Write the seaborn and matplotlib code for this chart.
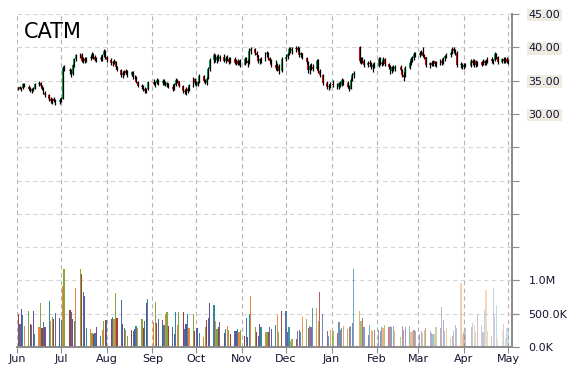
import numpy as np
import pandas as pd
import matplotlib
matplotlib.use("Agg")
import matplotlib.pyplot as plt
import matplotlib.dates as mdates
import seaborn as sns

# data - one row per month
holidays = ["2014-07-04", "2014-09-01", "2014-11-27", "2014-12-25",
            "2015-01-01", "2015-01-19", "2015-02-16", "2015-04-03"]

opens = [
    33.8, 34.0, 33.8, 33.9, 34.5, 34.1, 33.8, 33.5, 33.7, 33.8, 34.5, 34.7, 34.2, 33.8, 33.2, 32.8, 32.3, 31.9, 32.2, 32.0, 31.8,
    32.1, 32.3, 37.0, 36.6, 36.4, 36.0, 37.3, 38.2, 38.8, 38.9, 38.0, 38.3, 37.9, 38.4, 38.6, 39.0, 38.5, 38.1, 38.4, 38.2, 38.8, 39.4,
    38.5, 38.1, 37.6, 37.8, 37.9, 37.0, 36.6, 35.9, 36.1, 36.4, 36.2, 35.8, 36.3, 35.5, 35.6, 34.8, 34.2, 34.0, 33.7, 33.5, 33.8,
    34.8, 34.5, 34.7, 35.1, 34.6, 35.0, 34.5, 34.4, 34.6, 34.1, 33.7, 34.4, 35.1, 34.9, 34.2, 33.4, 33.3, 33.8, 33.5, 34.3, 35.2,
    34.6, 34.4, 34.8, 35.7, 35.0, 34.7, 35.3, 36.8, 38.1, 38.9, 38.1, 38.6, 38.3, 38.5, 38.0, 38.4, 38.2, 37.8, 38.3, 37.7, 38.0, 37.5, 37.9,
    37.4, 38.2, 37.9, 37.6, 39.5, 39.7, 39.2, 38.8, 37.9, 38.2, 38.0, 39.0, 39.2, 38.4, 37.9, 37.3, 36.9, 37.2, 36.4,
    38.3, 38.6, 39.0, 39.7, 39.5, 39.8, 39.9, 39.6, 38.9, 39.1, 38.4, 37.8, 36.6, 37.2, 37.0, 36.8, 38.0, 36.5, 35.8, 34.7, 34.0, 34.2,
    34.5, 34.3, 34.0, 34.6, 34.3, 35.1, 34.7, 34.1, 33.8, 35.1, 35.8, 40.0, 37.9, 38.2, 37.9, 37.4, 37.7, 37.5, 37.0, 37.4,
    37.2, 38.2, 37.7, 37.5, 38.2, 37.5, 37.0, 36.4, 37.0, 36.8, 37.1, 36.6, 35.9, 35.6, 36.9, 37.6, 38.2, 38.4, 39.0,
    38.8, 39.1, 39.3, 38.7, 38.5, 37.3, 37.6, 37.4, 37.9, 37.5, 37.6, 38.0, 37.7, 38.4, 38.7, 38.9, 39.2, 39.8, 39.5, 39.1, 37.3, 37.5,
    37.1, 37.3, 37.2, 38.0, 37.6, 37.9, 37.4, 37.8, 37.4, 37.9, 37.6, 38.0, 38.3, 37.9, 38.1, 39.0, 38.5, 37.8, 38.2, 37.9, 38.3,
    37.8,
]
highs = [
    34.1, 34.2, 34.0, 34.7, 34.6, 34.3, 34.0, 33.9, 34.0, 34.6, 34.9, 34.8, 34.4, 34.0, 33.4, 33.0, 32.5, 32.4, 32.5, 32.3, 32.4,
    32.6, 37.2, 37.3, 36.9, 36.8, 37.5, 38.4, 39.0, 39.2, 39.1, 38.5, 38.6, 38.6, 38.8, 39.3, 39.2, 38.9, 38.6, 38.7, 39.0, 39.7, 39.6,
    38.7, 38.4, 38.0, 38.2, 38.0, 37.2, 36.8, 36.4, 36.6, 36.7, 36.6, 36.5, 36.4, 35.9, 35.7, 35.0, 34.5, 34.3, 34.0, 33.9, 35.0,
    35.2, 34.9, 35.4, 35.3, 35.3, 35.2, 34.9, 34.8, 34.7, 34.5, 34.6, 35.4, 35.3, 35.0, 34.4, 33.8, 34.0, 34.1, 34.5, 35.5, 35.4,
    35.0, 35.0, 36.0, 35.9, 35.3, 35.5, 37.0, 38.4, 39.2, 39.0, 38.9, 39.0, 38.8, 39.0, 38.7, 38.9, 38.6, 38.5, 38.5, 38.2, 38.3, 38.1, 38.2,
    38.5, 38.6, 38.3, 39.9, 40.0, 39.9, 39.4, 38.9, 38.4, 38.5, 39.3, 39.4, 39.3, 38.6, 38.3, 38.1, 37.6, 37.5, 38.5,
    39.0, 39.2, 40.0, 40.1, 40.0, 40.2, 40.2, 40.0, 39.3, 39.2, 38.6, 38.0, 37.5, 37.7, 37.5, 38.3, 38.2, 36.7, 36.0, 34.9, 34.5, 34.8,
    35.1, 34.6, 34.8, 34.9, 35.4, 35.3, 34.9, 34.3, 35.4, 36.1, 36.4, 40.2, 38.5, 38.6, 38.2, 38.0, 38.1, 37.8, 37.6, 37.8,
    38.5, 38.6, 38.0, 38.5, 38.4, 37.7, 37.3, 37.2, 37.4, 37.3, 37.3, 36.8, 36.3, 37.2, 38.0, 38.5, 38.7, 39.3, 39.3,
    39.4, 39.6, 40.0, 39.0, 38.6, 37.8, 38.0, 38.1, 38.0, 37.9, 38.2, 38.3, 38.6, 38.9, 39.2, 39.5, 40.0, 40.1, 39.7, 39.4, 37.8, 37.7,
    37.6, 37.6, 38.3, 38.2, 38.2, 38.1, 38.0, 38.0, 38.2, 38.1, 38.2, 38.6, 38.5, 38.3, 39.3, 39.2, 38.7, 38.4, 38.5, 38.5, 38.6,
    38.3,
]
lows = [
    33.6, 33.7, 33.5, 33.8, 34.0, 33.6, 33.3, 33.2, 33.5, 33.7, 34.2, 34.0, 33.6, 33.0, 32.6, 32.0, 31.6, 31.5, 31.8, 31.4, 31.5,
    31.8, 32.2, 36.4, 36.0, 35.6, 35.9, 37.1, 38.0, 38.4, 37.8, 37.7, 37.6, 37.8, 38.1, 38.4, 38.3, 37.9, 37.8, 37.9, 38.0, 38.6, 38.3,
    37.8, 37.4, 37.2, 37.5, 36.8, 36.4, 35.6, 35.4, 35.8, 36.0, 35.5, 35.7, 35.3, 35.2, 34.6, 34.0, 33.7, 33.5, 33.2, 33.2, 33.6,
    34.3, 34.1, 34.5, 34.4, 34.4, 34.3, 34.2, 34.0, 33.9, 33.4, 33.6, 34.2, 34.6, 34.0, 33.1, 33.0, 32.9, 33.2, 33.4, 34.1, 34.3,
    34.2, 34.2, 34.7, 34.8, 34.5, 34.4, 35.2, 36.5, 37.6, 37.8, 37.6, 38.0, 37.9, 37.8, 37.6, 38.0, 37.5, 37.6, 37.5, 37.4, 37.3, 37.3, 37.0,
    37.3, 37.6, 37.0, 37.5, 39.0, 38.9, 38.5, 37.6, 37.5, 37.7, 37.9, 38.6, 38.1, 37.6, 37.0, 36.6, 36.5, 36.0, 36.3,
    38.0, 38.2, 38.8, 39.2, 39.0, 39.3, 39.4, 38.6, 38.5, 38.2, 37.5, 36.2, 36.0, 36.6, 36.5, 36.7, 36.2, 35.6, 34.4, 33.7, 33.6, 33.9,
    34.0, 33.8, 33.8, 34.0, 34.2, 34.4, 33.9, 33.4, 33.7, 35.0, 35.4, 37.6, 37.5, 37.7, 37.0, 37.0, 37.2, 36.8, 36.3, 36.9,
    37.1, 37.4, 37.2, 37.4, 37.2, 36.8, 36.0, 36.2, 36.5, 36.4, 36.4, 35.5, 35.0, 35.5, 36.8, 37.4, 37.8, 38.1, 38.5,
    38.6, 38.9, 38.5, 38.2, 37.0, 36.9, 37.2, 37.2, 37.2, 37.0, 37.4, 37.3, 37.5, 38.0, 38.4, 38.6, 39.0, 39.2, 38.8, 37.0, 36.9, 36.8,
    36.8, 37.0, 37.1, 37.3, 37.1, 37.0, 37.2, 37.2, 37.3, 37.3, 37.4, 37.6, 37.7, 37.5, 38.0, 38.2, 37.5, 37.6, 37.7, 37.6, 37.6,
    37.5,
]
closes = [
    34.0, 33.8, 33.9, 34.5, 34.1, 33.8, 33.5, 33.7, 33.8, 34.5, 34.7, 34.2, 33.8, 33.2, 32.8, 32.3, 31.9, 32.2, 32.0, 31.8, 32.1,
    32.3, 36.9, 36.6, 36.4, 36.0, 37.3, 38.2, 38.8, 38.9, 38.0, 38.3, 37.9, 38.4, 38.6, 39.0, 38.5, 38.1, 38.4, 38.2, 38.8, 39.4, 38.5,
    38.1, 37.6, 37.8, 37.9, 37.0, 36.6, 35.9, 36.1, 36.4, 36.2, 35.8, 36.3, 35.5, 35.6, 34.8, 34.2, 34.0, 33.7, 33.5, 33.8, 34.8,
    34.5, 34.7, 35.1, 34.6, 35.0, 34.5, 34.4, 34.6, 34.1, 33.7, 34.4, 35.1, 34.9, 34.2, 33.4, 33.3, 33.8, 33.5, 34.3, 35.2, 34.6,
    34.4, 34.8, 35.7, 35.0, 34.7, 35.3, 36.8, 38.1, 38.9, 38.1, 38.6, 38.3, 38.5, 38.0, 38.4, 38.2, 37.8, 38.3, 37.7, 38.0, 37.5, 37.9, 37.4,
    38.2, 37.9, 37.6, 39.5, 39.7, 39.2, 38.8, 37.9, 38.2, 38.0, 39.0, 39.2, 38.4, 37.9, 37.3, 36.9, 37.2, 36.4, 38.3,
    38.6, 39.0, 39.7, 39.5, 39.8, 39.9, 39.6, 38.9, 39.1, 38.4, 37.8, 36.6, 37.2, 37.0, 36.8, 38.0, 36.5, 35.8, 34.7, 34.0, 34.2, 34.5,
    34.3, 34.0, 34.6, 34.3, 35.1, 34.7, 34.1, 33.8, 35.1, 35.8, 36.1, 37.9, 38.2, 37.9, 37.4, 37.7, 37.5, 37.0, 37.4, 37.2,
    38.2, 37.7, 37.5, 38.2, 37.5, 37.0, 36.4, 37.0, 36.8, 37.1, 36.6, 35.9, 35.6, 36.9, 37.6, 38.2, 38.4, 39.0, 38.8,
    39.1, 39.3, 38.7, 38.5, 37.3, 37.6, 37.4, 37.9, 37.5, 37.6, 38.0, 37.7, 38.4, 38.7, 38.9, 39.2, 39.8, 39.5, 39.1, 37.3, 37.5, 37.1,
    37.3, 37.2, 38.0, 37.6, 37.9, 37.4, 37.8, 37.4, 37.9, 37.6, 38.0, 38.3, 37.9, 38.1, 39.0, 38.5, 37.8, 38.2, 37.9, 38.3, 37.8,
    38.0,
]
# volume in thousands of shares
volume_k = [
    500, 350, 575, 485, 320, 545, 345, 335, 545, 200, 300, 655, 285, 370, 300, 690, 395, 455, 420, 505, 435,
    410, 915, 1165, 550, 530, 425, 395, 880, 1165, 1090, 820, 770, 285, 275, 215, 200, 215, 300, 165, 260, 385, 410,
    400, 425, 450, 420, 810, 430, 710, 350, 290, 250, 165, 255, 240, 270, 320, 280, 425, 280, 395, 665, 725,
    380, 680, 355, 420, 410, 335, 500, 520, 310, 295, 200, 520, 335, 520, 520, 275, 340, 495, 280, 490, 240,
    290, 290, 215, 145, 300, 410, 430, 665, 635, 390, 270, 300, 370, 215, 270, 320, 255, 200, 240, 240, 270, 230, 260,
    170, 440, 145, 490, 770, 300, 220, 170, 350, 300, 220, 220, 230, 300, 270, 330, 485, 220, 545,
    545, 220, 305, 95, 115, 120, 245, 260, 220, 450, 425, 280, 310, 300, 585, 590, 395, 825, 495, 240, 160, 250,
    245, 215, 370, 250, 290, 320, 270, 305, 310, 355, 1165, 545, 390, 435, 300, 175, 330, 260, 245, 250,
    255, 245, 300, 280, 325, 295, 320, 305, 315, 240, 150, 310, 255, 300, 315, 230, 240, 255, 245,
    195, 240, 215, 255, 280, 240, 205, 195, 195, 305, 280, 605, 410, 240, 280, 140, 170, 240, 335, 290, 955, 200,
    220, 280, 305, 355, 335, 220, 475, 335, 220, 560, 850, 240, 160, 890, 470, 625, 120, 240, 340, 140, 280,
    290,
]

#styles
TEXT_COLOR = "#141432"
AXIS_COLOR = "#8c8c8c"
UP_COLOR, DOWN_COLOR = "#00b050", "#ff0000"
VOL_COLORS = ["#a33c3c", "#4a6fa5", "#6b4c9a", "#2e8b9a", "#e8873a", "#8ba33e"]
LABEL_BG = "#eeece1"

dates = pd.bdate_range("2014-06-02", "2015-05-01")
dates = dates[~dates.isin(pd.to_datetime(holidays))]
assert len(dates) == len(opens) == len(highs) == len(lows) == len(closes) == len(volume_k)

df = pd.DataFrame({"date": dates, "open": opens, "high": highs,
                   "low": lows, "close": closes, "volume": np.array(volume_k) * 1000})
df["x"] = mdates.date2num(df["date"])
df["up"] = df["close"] >= df["open"]

sns.set_theme(style="white")
plt.rcParams["font.family"] = ["DejaVu Sans"]

fig = plt.figure(figsize=(5.7, 3.7), dpi=100)
ax = fig.add_axes([17 / 570, 23 / 370, 495 / 570, 333 / 370])
ax_vol = ax.twinx()

# volume bars, fading out toward the right
n = len(df)
fade = np.clip(1 - (np.arange(n) - 115) / (n - 115) * 0.75, 0.25, 1.0)
for i, row in df.iterrows():
    ax_vol.bar(row["x"], row["volume"], width=0.8, color=VOL_COLORS[i % len(VOL_COLORS)],
               alpha=fade[i], linewidth=0)

# candles
body_colors = np.where(df["up"], UP_COLOR, DOWN_COLOR)
body_low = df[["open", "close"]].min(axis=1)
body_h = (df["close"] - df["open"]).abs().clip(lower=0.08)
ax.bar(df["x"], body_h, bottom=body_low, width=1.2, color=body_colors, linewidth=0, zorder=3)
ax.vlines(df["x"], df["low"], df["high"], color="black", linewidth=0.9, zorder=4)

# axes limits
start = mdates.date2num(pd.Timestamp("2014-06-01"))
ax.set_xlim(start, start + 336.7)
ax.set_ylim(-5, 45)
ax_vol.set_ylim(0, 5e6)

# month ticks + vertical grid
months = pd.date_range("2014-06-01", "2015-05-01", freq="MS")
ax.set_xticks(mdates.date2num(months))
ax.set_xticklabels([m.strftime("%b") for m in months])
for m in mdates.date2num(months):
    ax.axvline(m, color="#b4b4b4", linestyle=(0, (4, 3)), linewidth=0.8, zorder=0)

# horizontal grid + right-side price ticks
price_ticks = np.arange(-5, 46, 5)
ax.set_yticks(price_ticks)
ax.set_yticklabels([f"{t:.2f}" if t >= 30 else "" for t in price_ticks])
for t in price_ticks[1:]:
    ax.axhline(t, color="#d4d4d4", linestyle=(0, (4, 3)), linewidth=0.8, zorder=0)
ax.yaxis.tick_right()

ax_vol.set_yticks([0, 5e5, 1e6])
ax_vol.set_yticklabels(["0.0K", "500.0K", "1.0M"])

for a in (ax, ax_vol):
    for side in ("top", "left"):
        a.spines[side].set_visible(False)
    a.spines["right"].set_color(AXIS_COLOR)
    a.spines["bottom"].set_color(AXIS_COLOR)
    a.tick_params(axis="y", which="both", right=True, left=False, labelleft=False,
                  labelright=True, direction="out", length=5, width=0.8,
                  color=AXIS_COLOR, labelsize=8, labelcolor=TEXT_COLOR, pad=7)
ax.tick_params(axis="x", direction="out", length=4, width=0.8, color=AXIS_COLOR,
               labelsize=8, labelcolor=TEXT_COLOR, pad=1, bottom=True)
ax.grid(False)
ax_vol.grid(False)

for lbl in ax.get_yticklabels():
    if lbl.get_text():
        lbl.set_bbox(dict(facecolor=LABEL_BG, edgecolor="none", pad=1.0))

ax.text(0.014, 0.975, "CATM", transform=ax.transAxes, fontsize=15,
        color="black", va="top", ha="left")

fig.savefig("out.png", dpi=100)
